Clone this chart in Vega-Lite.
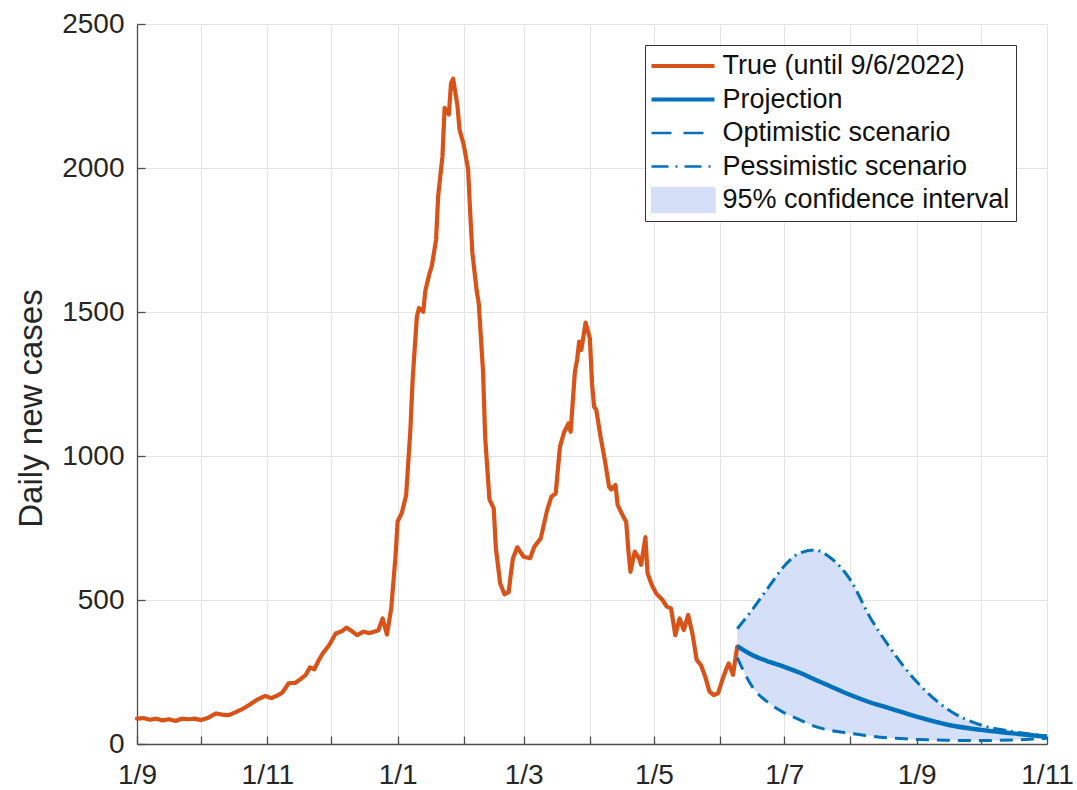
{
  "$schema": "https://vega.github.io/schema/vega-lite/v6.json",
  "width": 910,
  "height": 720,
  "autosize": {"type": "none"},
  "padding": {"left": 137, "top": 24, "right": 30, "bottom": 46},
  "background": "white",
  "config": {
    "view": {"stroke": null},
    "font": "Liberation Sans",
    "axis": {
      "grid": true,
      "gridColor": "#e4e4e4",
      "gridWidth": 1,
      "domainColor": "#4d4d4d",
      "domainWidth": 1.3,
      "tickColor": "#4d4d4d",
      "tickWidth": 1.3,
      "tickSize": -8,
      "labelFont": "Liberation Sans",
      "labelFontSize": 28,
      "labelColor": "#262626",
      "titleFont": "Liberation Sans",
      "titleFontSize": 33,
      "titleFontWeight": "normal",
      "titleColor": "#262626"
    },
    "axisX": {"labelPadding": 47, "labelBaseline": "alphabetic", "labelFlush": false, "labelOverlap": false},
    "axisY": {"labelPadding": 21, "titleX": -96, "titleY": 384, "titleBaseline": "alphabetic", "titleAngle": -90, "titleAlign": "center"}
  },
  "datasets": {
    "truth": [
      {"d": "2021/09/01", "v": 88}, {"d": "2021/09/04", "v": 90}, {"d": "2021/09/07", "v": 84},
      {"d": "2021/09/10", "v": 88}, {"d": "2021/09/13", "v": 82}, {"d": "2021/09/16", "v": 86},
      {"d": "2021/09/19", "v": 80}, {"d": "2021/09/22", "v": 88}, {"d": "2021/09/25", "v": 86},
      {"d": "2021/09/28", "v": 88}, {"d": "2021/10/01", "v": 83}, {"d": "2021/10/04", "v": 90},
      {"d": "2021/10/08", "v": 106}, {"d": "2021/10/11", "v": 102}, {"d": "2021/10/14", "v": 100},
      {"d": "2021/10/17", "v": 110}, {"d": "2021/10/21", "v": 124}, {"d": "2021/10/24", "v": 138},
      {"d": "2021/10/27", "v": 153}, {"d": "2021/10/31", "v": 167}, {"d": "2021/11/03", "v": 159},
      {"d": "2021/11/06", "v": 170}, {"d": "2021/11/08", "v": 178}, {"d": "2021/11/11", "v": 211},
      {"d": "2021/11/14", "v": 212}, {"d": "2021/11/16", "v": 222}, {"d": "2021/11/19", "v": 240},
      {"d": "2021/11/21", "v": 266}, {"d": "2021/11/23", "v": 259}, {"d": "2021/11/25", "v": 290},
      {"d": "2021/11/27", "v": 315}, {"d": "2021/11/30", "v": 344}, {"d": "2021/12/03", "v": 384},
      {"d": "2021/12/06", "v": 392}, {"d": "2021/12/08", "v": 404}, {"d": "2021/12/10", "v": 395},
      {"d": "2021/12/13", "v": 378}, {"d": "2021/12/16", "v": 390}, {"d": "2021/12/19", "v": 385},
      {"d": "2021/12/22", "v": 392}, {"d": "2021/12/23", "v": 395}, {"d": "2021/12/25", "v": 436},
      {"d": "2021/12/27", "v": 380}, {"d": "2021/12/29", "v": 470}, {"d": "2021/12/31", "v": 650},
      {"d": "2022/01/01", "v": 772}, {"d": "2022/01/03", "v": 803}, {"d": "2022/01/05", "v": 864},
      {"d": "2022/01/07", "v": 1093}, {"d": "2022/01/08", "v": 1261}, {"d": "2022/01/10", "v": 1483},
      {"d": "2022/01/11", "v": 1514}, {"d": "2022/01/13", "v": 1501}, {"d": "2022/01/14", "v": 1575},
      {"d": "2022/01/16", "v": 1636}, {"d": "2022/01/17", "v": 1659}, {"d": "2022/01/19", "v": 1751},
      {"d": "2022/01/20", "v": 1904}, {"d": "2022/01/22", "v": 2041}, {"d": "2022/01/23", "v": 2209},
      {"d": "2022/01/25", "v": 2186}, {"d": "2022/01/26", "v": 2294}, {"d": "2022/01/27", "v": 2310},
      {"d": "2022/01/29", "v": 2217}, {"d": "2022/01/30", "v": 2133}, {"d": "2022/02/01", "v": 2079},
      {"d": "2022/02/03", "v": 1995}, {"d": "2022/02/04", "v": 1842}, {"d": "2022/02/05", "v": 1705},
      {"d": "2022/02/07", "v": 1575}, {"d": "2022/02/08", "v": 1529}, {"d": "2022/02/10", "v": 1292},
      {"d": "2022/02/11", "v": 1063}, {"d": "2022/02/13", "v": 849}, {"d": "2022/02/15", "v": 818},
      {"d": "2022/02/16", "v": 680}, {"d": "2022/02/18", "v": 558}, {"d": "2022/02/20", "v": 520},
      {"d": "2022/02/22", "v": 527}, {"d": "2022/02/23", "v": 590}, {"d": "2022/02/24", "v": 645},
      {"d": "2022/02/26", "v": 683}, {"d": "2022/03/01", "v": 650}, {"d": "2022/03/04", "v": 645},
      {"d": "2022/03/06", "v": 685}, {"d": "2022/03/09", "v": 714}, {"d": "2022/03/12", "v": 812},
      {"d": "2022/03/14", "v": 859}, {"d": "2022/03/16", "v": 870}, {"d": "2022/03/18", "v": 1032},
      {"d": "2022/03/20", "v": 1084}, {"d": "2022/03/22", "v": 1113}, {"d": "2022/03/23", "v": 1084},
      {"d": "2022/03/25", "v": 1293}, {"d": "2022/03/26", "v": 1333}, {"d": "2022/03/27", "v": 1397},
      {"d": "2022/03/28", "v": 1368}, {"d": "2022/03/30", "v": 1463}, {"d": "2022/04/01", "v": 1409},
      {"d": "2022/04/02", "v": 1252}, {"d": "2022/04/03", "v": 1171}, {"d": "2022/04/04", "v": 1160},
      {"d": "2022/04/06", "v": 1067}, {"d": "2022/04/08", "v": 986}, {"d": "2022/04/10", "v": 893},
      {"d": "2022/04/11", "v": 884}, {"d": "2022/04/13", "v": 899}, {"d": "2022/04/14", "v": 830},
      {"d": "2022/04/17", "v": 784}, {"d": "2022/04/18", "v": 772}, {"d": "2022/04/19", "v": 674},
      {"d": "2022/04/20", "v": 598}, {"d": "2022/04/22", "v": 668}, {"d": "2022/04/24", "v": 645},
      {"d": "2022/04/25", "v": 622}, {"d": "2022/04/27", "v": 718}, {"d": "2022/04/28", "v": 593},
      {"d": "2022/04/30", "v": 552}, {"d": "2022/05/02", "v": 523}, {"d": "2022/05/05", "v": 500},
      {"d": "2022/05/07", "v": 477}, {"d": "2022/05/09", "v": 471}, {"d": "2022/05/11", "v": 378},
      {"d": "2022/05/13", "v": 436}, {"d": "2022/05/15", "v": 396}, {"d": "2022/05/17", "v": 448},
      {"d": "2022/05/19", "v": 384}, {"d": "2022/05/21", "v": 292}, {"d": "2022/05/23", "v": 274},
      {"d": "2022/05/25", "v": 234}, {"d": "2022/05/27", "v": 182}, {"d": "2022/05/29", "v": 170},
      {"d": "2022/05/31", "v": 176}, {"d": "2022/06/02", "v": 222}, {"d": "2022/06/04", "v": 263},
      {"d": "2022/06/05", "v": 280}, {"d": "2022/06/07", "v": 240}, {"d": "2022/06/09", "v": 338}
    ],
    "proj": [
      {"d": "2022/06/09", "p": 340, "o": 300, "q": 400},
      {"d": "2022/06/16", "p": 309, "o": 199, "q": 466},
      {"d": "2022/06/24", "p": 285, "o": 141, "q": 548},
      {"d": "2022/07/01", "p": 268, "o": 108, "q": 618},
      {"d": "2022/07/08", "p": 248, "o": 85, "q": 662},
      {"d": "2022/07/15", "p": 225, "o": 62, "q": 674},
      {"d": "2022/07/22", "p": 202, "o": 48, "q": 650},
      {"d": "2022/08/01", "p": 170, "o": 37, "q": 569},
      {"d": "2022/08/10", "p": 145, "o": 28, "q": 442},
      {"d": "2022/08/18", "p": 127, "o": 22, "q": 350},
      {"d": "2022/09/01", "p": 95, "o": 16, "q": 216},
      {"d": "2022/09/16", "p": 66, "o": 13, "q": 118},
      {"d": "2022/10/01", "p": 49, "o": 12, "q": 66},
      {"d": "2022/10/16", "p": 37, "o": 14, "q": 43},
      {"d": "2022/11/01", "p": 25, "o": 20, "q": 28}
    ]
  },
  "encoding": {
    "x": {
      "field": "d",
      "type": "temporal",
      "title": null,
      "scale": {"domain": [{"year": 2021, "month": 9, "date": 1}, {"year": 2022, "month": 11, "date": 1}], "nice": false},
      "axis": {
        "values": [
          {"year": 2021, "month": 9, "date": 1}, {"year": 2021, "month": 10, "date": 1},
          {"year": 2021, "month": 11, "date": 1}, {"year": 2021, "month": 12, "date": 1},
          {"year": 2022, "month": 1, "date": 1}, {"year": 2022, "month": 2, "date": 1},
          {"year": 2022, "month": 3, "date": 1}, {"year": 2022, "month": 4, "date": 1},
          {"year": 2022, "month": 5, "date": 1}, {"year": 2022, "month": 6, "date": 1},
          {"year": 2022, "month": 7, "date": 1}, {"year": 2022, "month": 8, "date": 1},
          {"year": 2022, "month": 9, "date": 1}, {"year": 2022, "month": 10, "date": 1},
          {"year": 2022, "month": 11, "date": 1}
        ],
        "labelExpr": "month(datum.value) % 2 == 0 ? timeFormat(datum.value, '%-d/%-m') : ''"
      }
    }
  },
  "layer": [
    {
      "data": {"name": "proj"},
      "mark": {"type": "area", "color": "#d6dff8", "opacity": 1, "interpolate": "monotone"},
      "encoding": {
        "y": {"field": "o", "type": "quantitative", "title": "Daily new cases", "scale": {"domain": [0, 2500], "nice": false}, "axis": {"values": [0, 500, 1000, 1500, 2000, 2500], "format": "d"}},
        "y2": {"field": "q"}
      }
    },
    {
      "data": {"name": "truth"},
      "mark": {"type": "line", "strokeWidth": 4.2, "strokeJoin": "round", "strokeCap": "round"},
      "encoding": {
        "y": {"field": "v", "type": "quantitative", "title": "Daily new cases"},
        "color": {
          "datum": "True (until 9/6/2022)",
          "type": "nominal",
          "scale": {
            "domain": ["True (until 9/6/2022)", "Projection", "Optimistic scenario", "Pessimistic scenario", "95% confidence interval"],
            "range": ["#D95319", "#0072BD", "#0072BD", "#0072BD", "#d6dff8"]
          },
          "legend": {
            "title": null,
            "orient": "none",
            "legendX": 508,
            "legendY": 21,
            "direction": "vertical",
            "fillColor": "white",
            "strokeColor": "#333333",
            "padding": 6,
            "rowPadding": 3.5,
            "clipHeight": 30,
            "symbolSize": 3969,
            "symbolOffset": 18.5,
            "symbolType": "stroke",
            "labelOffset": 26,
            "labelFont": "Liberation Sans",
            "labelFontSize": 27,
            "labelColor": "#111111",
            "labelLimit": 400,
            "encode": {
              "symbols": {
                "update": {
                  "shape": {"signal": "datum.value === '95% confidence interval' ? 'M-1,-0.38H1V0.38H-1Z' : 'stroke'"},
                  "size": {"value": 3969},
                  "fill": {"signal": "datum.value === '95% confidence interval' ? '#d6dff8' : 'transparent'"},
                  "stroke": {"signal": "datum.value === '95% confidence interval' ? 'transparent' : (datum.value === 'True (until 9/6/2022)' ? '#D95319' : '#0072BD')"},
                  "strokeWidth": {"signal": "(datum.value === 'True (until 9/6/2022)' || datum.value === 'Projection') ? 4 : 2.6"},
                  "strokeDash": {"signal": "datum.value === 'Optimistic scenario' ? [20, 12] : (datum.value === 'Pessimistic scenario' ? [17, 7, 2, 7] : [1, 0])"},
                  "opacity": {"value": 1},
                  "fillOpacity": {"value": 1},
                  "strokeOpacity": {"value": 1}
                }
              }
            }
          }
        }
      }
    },
    {
      "data": {"name": "proj"},
      "mark": {"type": "line", "strokeWidth": 4.4, "interpolate": "monotone"},
      "encoding": {
        "y": {"field": "p", "type": "quantitative", "title": "Daily new cases"},
        "color": {"datum": "Projection", "type": "nominal"}
      }
    },
    {
      "data": {"name": "proj"},
      "mark": {"type": "line", "strokeWidth": 3, "strokeDash": [13, 8], "interpolate": "monotone"},
      "encoding": {
        "y": {"field": "o", "type": "quantitative", "title": "Daily new cases"},
        "color": {"datum": "Optimistic scenario", "type": "nominal"}
      }
    },
    {
      "data": {"name": "proj"},
      "mark": {"type": "line", "strokeWidth": 3, "strokeDash": [13, 5, 2, 5], "interpolate": "monotone"},
      "encoding": {
        "y": {"field": "q", "type": "quantitative", "title": "Daily new cases"},
        "color": {"datum": "Pessimistic scenario", "type": "nominal"}
      }
    }
  ]
}
